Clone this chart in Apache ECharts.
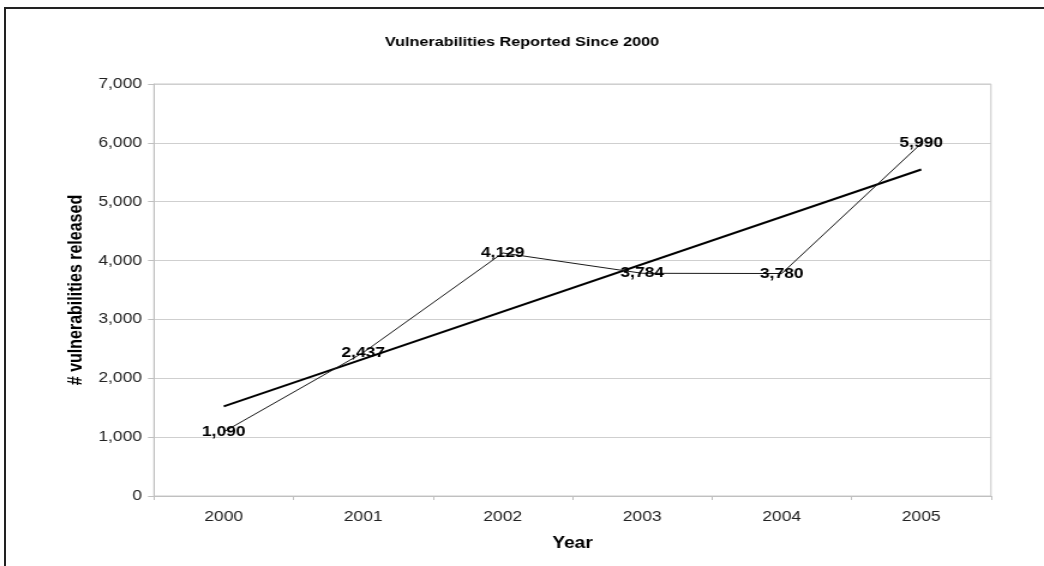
<!DOCTYPE html>
<html>
<head>
<meta charset="utf-8">
<script src="https://cdn.jsdelivr.net/npm/echarts@6/dist/echarts.min.js"></script>
<style>
  html, body { margin: 0; padding: 0; background: #fff; overflow: hidden; }
  #wrap { position: relative; width: 1044px; height: 566px; overflow: hidden; }
  /* the chart is laid out narrower and widened, giving the broad lettering */
  #chart { position: absolute; left: 0; top: 0; width: 870px; height: 566px;
           transform: scaleX(1.2); transform-origin: 0 0; }
  #frame { position: absolute; left: 4px; top: 7px; width: 1100px; height: 600px;
           border: 2px solid #222; pointer-events: none; }
</style>
</head>
<body>
<div id="wrap">
  <div id="chart"></div>
  <div id="frame"></div>
</div>
<script>
// Vulnerabilities reported per year, with a linear trend line
const years = ['2000', '2001', '2002', '2003', '2004', '2005'];
const reported = [1090, 2437, 4129, 3784, 3780, 5990];
// Trend line end points (first and last year)
const trendEnds = [1522, null, null, null, null, 5548];
const yTicks = { min: 0, max: 7000, interval: 1000 };

const FONT = '"Liberation Sans", Arial, sans-serif';
const chart = echarts.init(document.getElementById('chart'), null, { renderer: 'canvas' });

chart.setOption({
  backgroundColor: '#ffffff',
  animation: false,
  title: {
    text: 'Vulnerabilities Reported Since 2000',
    left: 'center',
    top: 30,
    textStyle: { fontFamily: FONT, fontSize: 13.5, fontWeight: 'bold', color: '#000' }
  },
  grid: {
    left: 128.3, right: 44.2, top: 84, bottom: 70,
    show: true, borderColor: '#c8c8c8', borderWidth: 1, backgroundColor: 'transparent'
  },
  xAxis: {
    type: 'category',
    data: years,
    boundaryGap: true,
    name: 'Year',
    nameLocation: 'middle',
    nameGap: 40,
    nameTextStyle: { fontFamily: FONT, fontSize: 16, fontWeight: 'bold', color: '#000' },
    axisLine: { lineStyle: { color: '#c0c0c0' } },
    axisTick: { show: true, length: 4, alignWithLabel: false, lineStyle: { color: '#c0c0c0' } },
    axisLabel: { fontFamily: FONT, fontSize: 14.5, color: '#222', margin: 13 }
  },
  yAxis: {
    type: 'value',
    min: yTicks.min, max: yTicks.max, interval: yTicks.interval,
    name: '# vulnerabilities released',
    nameLocation: 'middle',
    nameGap: 53,
    nameRotate: 90,
    nameTextStyle: { fontFamily: FONT, fontSize: 16, fontWeight: 'bold', color: '#000' },
    axisLine: { show: true, lineStyle: { color: '#c0c0c0' } },
    axisTick: { show: true, length: 5, lineStyle: { color: '#c0c0c0' } },
    splitLine: { lineStyle: { color: '#cfcfcf' } },
    axisLabel: {
      fontFamily: FONT, fontSize: 14.5, color: '#222', margin: 10,
      formatter: v => v.toLocaleString('en-US')
    }
  },
  series: [
    {
      name: 'Reported',
      type: 'line',
      data: reported,
      symbol: 'circle',
      symbolSize: 0.1,
      showSymbol: true,
      itemStyle: { color: '#1a1a1a' },
      lineStyle: { color: '#1a1a1a', width: 1 },
      label: {
        show: true,
        position: 'inside',
        fontFamily: FONT, fontSize: 14.5, fontWeight: 'bold', color: '#000',
        formatter: p => p.value.toLocaleString('en-US')
      },
      z: 3
    },
    {
      name: 'Trend',
      type: 'line',
      data: trendEnds,
      connectNulls: true,
      symbol: 'none',
      lineStyle: { color: '#000', width: 2 },
      z: 2
    }
  ]
});
</script>
</body>
</html>
